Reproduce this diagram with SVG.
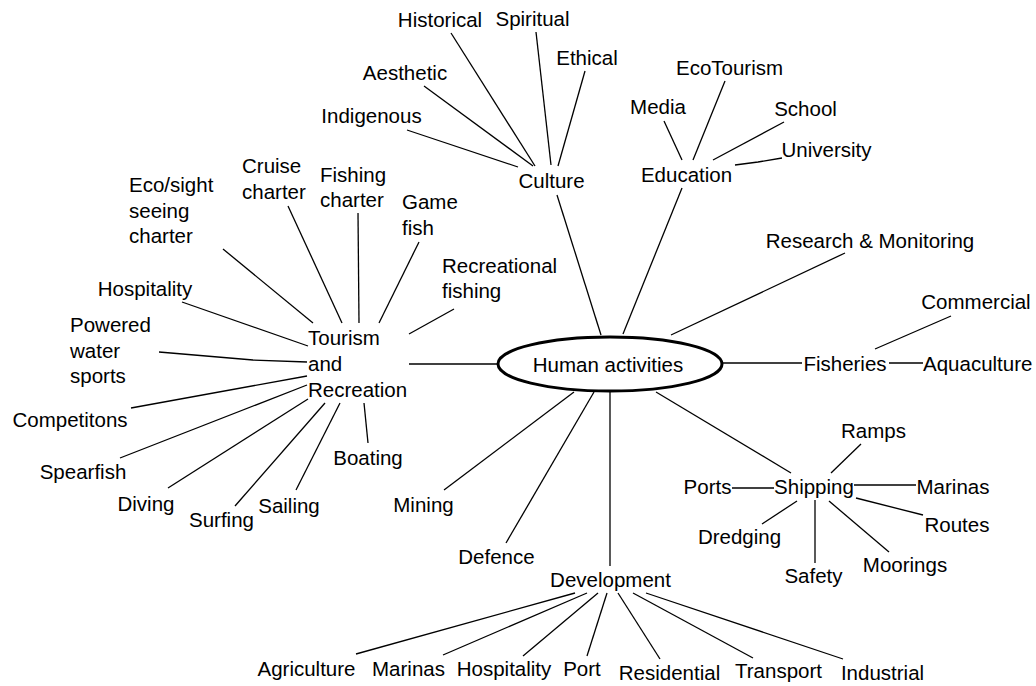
<svg xmlns="http://www.w3.org/2000/svg" width="1036" height="686" viewBox="0 0 1036 686">
<style>
text{font-family:"Liberation Sans",Arial,sans-serif;font-size:20.5px;fill:#000}
.m{text-anchor:middle}
.c line,.c polyline{stroke:#000;stroke-width:1.3;fill:none}
.hub{fill:#fff;stroke:#000;stroke-width:3}
</style>
<rect width="1036" height="686" fill="#fff"/>
<g class="c" id="connectors">
<line x1="451" y1="33" x2="535" y2="166"/>
<line x1="536" y1="32" x2="551" y2="165"/>
<line x1="585" y1="71" x2="558" y2="166"/>
<line x1="424" y1="86" x2="533" y2="166"/>
<line x1="407" y1="130" x2="518" y2="167"/>
<line x1="557" y1="195" x2="601" y2="335"/>
<line x1="664" y1="121" x2="682" y2="160"/>
<line x1="725" y1="81" x2="693" y2="160"/>
<line x1="784" y1="122" x2="713" y2="160"/>
<polyline points="735,165 758,162 782,158"/>
<line x1="682" y1="188" x2="623" y2="334"/>
<line x1="845" y1="253" x2="671" y2="335"/>
<line x1="722" y1="363" x2="802" y2="363"/>
<line x1="889" y1="363" x2="923" y2="363"/>
<line x1="951" y1="316" x2="875" y2="349"/>
<line x1="223" y1="249" x2="313" y2="323"/>
<line x1="288" y1="206" x2="342" y2="323"/>
<line x1="358" y1="213" x2="359" y2="323"/>
<line x1="419" y1="242" x2="379" y2="323"/>
<line x1="454" y1="309" x2="409" y2="334"/>
<line x1="182" y1="302" x2="308" y2="346"/>
<polyline points="159,352 253,360 307,362"/>
<line x1="131" y1="408" x2="307" y2="376"/>
<line x1="120" y1="458" x2="307" y2="385"/>
<line x1="168" y1="488" x2="308" y2="399"/>
<line x1="235" y1="506" x2="325" y2="403"/>
<line x1="296" y1="490" x2="340" y2="403"/>
<line x1="368" y1="443" x2="364" y2="403"/>
<line x1="409" y1="364" x2="498" y2="364"/>
<line x1="444" y1="490" x2="574" y2="392"/>
<line x1="506" y1="543" x2="594" y2="392"/>
<line x1="610" y1="391" x2="610" y2="566"/>
<line x1="656" y1="392" x2="791" y2="473"/>
<line x1="861" y1="444" x2="831" y2="473"/>
<line x1="732" y1="488" x2="774" y2="488"/>
<line x1="854" y1="485" x2="916" y2="485"/>
<line x1="856" y1="498" x2="923" y2="515"/>
<line x1="797" y1="501" x2="762" y2="524"/>
<line x1="815" y1="500" x2="815" y2="563"/>
<line x1="829" y1="501" x2="889" y2="552"/>
<line x1="356" y1="654" x2="575" y2="593"/>
<line x1="443" y1="655" x2="587" y2="593"/>
<line x1="523" y1="656" x2="598" y2="593"/>
<line x1="587" y1="656" x2="607" y2="593"/>
<line x1="660" y1="659" x2="618" y2="593"/>
<line x1="753" y1="658" x2="633" y2="593"/>
<line x1="843" y1="659" x2="646" y2="593"/>
</g>
<g id="human"><ellipse class="hub" cx="610" cy="364" rx="112" ry="27"/><text class="m" x="608" y="372">Human activities</text></g>
<g id="culture"><text class="m" x="551.5" y="188">Culture</text></g>
<g id="historical"><text class="m" x="440" y="27">Historical</text></g>
<g id="spiritual"><text class="m" x="532.5" y="26">Spiritual</text></g>
<g id="ethical"><text class="m" x="587" y="65">Ethical</text></g>
<g id="aesthetic"><text class="m" x="405" y="80">Aesthetic</text></g>
<g id="indigenous"><text class="m" x="371.5" y="123">Indigenous</text></g>
<g id="education"><text class="m" x="686.5" y="182">Education</text></g>
<g id="ecotourism"><text class="m" x="729.5" y="75">EcoTourism</text></g>
<g id="media"><text class="m" x="658" y="114">Media</text></g>
<g id="school"><text class="m" x="805.5" y="116">School</text></g>
<g id="university"><text class="m" x="826.5" y="157">University</text></g>
<g id="research"><text class="m" x="870" y="248">Research &amp; Monitoring</text></g>
<g id="fisheries"><text class="m" x="845" y="371">Fisheries</text></g>
<g id="commercial"><text class="m" x="976" y="309">Commercial</text></g>
<g id="aquaculture"><text x="923" y="371">Aquaculture</text></g>
<g id="tourism"><text x="308" y="345">Tourism</text><text x="308" y="371">and</text><text x="308" y="397">Recreation</text></g>
<g id="ecosight"><text x="129" y="192">Eco/sight</text><text x="129" y="218">seeing</text><text x="129" y="243">charter</text></g>
<g id="cruise"><text x="242" y="173">Cruise</text><text x="242" y="199">charter</text></g>
<g id="fishingcharter"><text x="320" y="182">Fishing</text><text x="320" y="207">charter</text></g>
<g id="gamefish"><text x="402" y="209">Game</text><text x="402" y="235">fish</text></g>
<g id="recfishing"><text x="442" y="273">Recreational</text><text x="442" y="298">fishing</text></g>
<g id="hospitality1"><text class="m" x="145" y="296">Hospitality</text></g>
<g id="powered"><text x="70" y="332">Powered</text><text x="70" y="358">water</text><text x="70" y="383">sports</text></g>
<g id="competitons"><text class="m" x="70" y="427">Competitons</text></g>
<g id="spearfish"><text class="m" x="83" y="479">Spearfish</text></g>
<g id="diving"><text class="m" x="146" y="511">Diving</text></g>
<g id="surfing"><text class="m" x="221.5" y="527">Surfing</text></g>
<g id="sailing"><text class="m" x="289" y="513">Sailing</text></g>
<g id="boating"><text class="m" x="368" y="465">Boating</text></g>
<g id="mining"><text class="m" x="423.5" y="512">Mining</text></g>
<g id="defence"><text class="m" x="496.5" y="564">Defence</text></g>
<g id="development"><text class="m" x="610.5" y="587">Development</text></g>
<g id="shipping"><text class="m" x="814" y="494">Shipping</text></g>
<g id="ramps"><text class="m" x="873.5" y="438">Ramps</text></g>
<g id="ports"><text class="m" x="707.5" y="494">Ports</text></g>
<g id="marinas1"><text class="m" x="953" y="494">Marinas</text></g>
<g id="routes"><text class="m" x="957" y="532">Routes</text></g>
<g id="dredging"><text class="m" x="739.5" y="544">Dredging</text></g>
<g id="safety"><text class="m" x="813.5" y="583">Safety</text></g>
<g id="moorings"><text class="m" x="905" y="572">Moorings</text></g>
<g id="agriculture"><text class="m" x="306.5" y="676">Agriculture</text></g>
<g id="marinas2"><text class="m" x="408.5" y="676">Marinas</text></g>
<g id="hospitality2"><text class="m" x="504" y="676">Hospitality</text></g>
<g id="port"><text class="m" x="582" y="676">Port</text></g>
<g id="residential"><text class="m" x="669.5" y="680">Residential</text></g>
<g id="transport"><text class="m" x="778.5" y="678">Transport</text></g>
<g id="industrial"><text class="m" x="882.5" y="680">Industrial</text></g>
</svg>
